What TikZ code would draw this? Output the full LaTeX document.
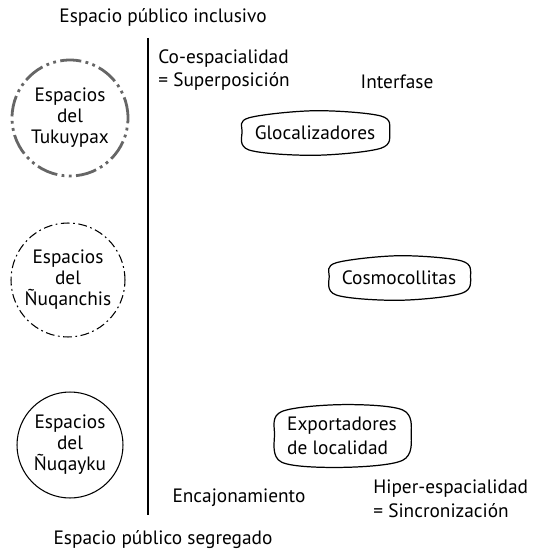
\documentclass[tikz,border=0pt]{standalone}
\usepackage{fontspec}
\setmainfont{PT Sans}
\newcommand{\contorno}[1]{%
    \draw[borde] plot[smooth cycle, tension=0.55] coordinates {
        ([shift={(3pt,-2pt)}]#1.north west)
        ([shift={(0pt,2pt)}]#1.north)
        ([shift={(-3pt,-1pt)}]#1.north east)
        ([shift={(2pt,1pt)}]#1.east)
        ([shift={(-3pt,2pt)}]#1.south east)
        ([shift={(0pt,-2pt)}]#1.south)
        ([shift={(3pt,1pt)}]#1.south west)
        ([shift={(-1pt,1pt)}]#1.west)
    };}
\begin{document}
\begin{tikzpicture}[
        x=0.02cm, y=-0.02cm,
        texto/.style={
            font=\fontsize{11}{13.5}\selectfont,
            inner sep=0pt,
            align=left
        },
        espacio/.style={
            circle,
            align=center,
            inner sep=0pt,
            font=\fontsize{11}{12}\selectfont
        },
        actor/.style={
            align=left,
            inner xsep=6pt,
            inner ysep=6.5pt,
            font=\fontsize{11}{13.5}\selectfont
        },
        borde/.style={draw, line width=0.7pt}
    ]
        \useasboundingbox (0,0) rectangle (536,554);

        % ejes
        \coordinate (arriba) at (148,38);
        \coordinate (abajo) at (148,515);
        \draw[line width=0.6pt] (arriba) -- (abajo);

        \node[texto] (inclusivo) at (163,17) {Espacio público inclusivo};
        \node[texto] (segregado) at (163,540) {Espacio público segregado};

        % espacios
        \node[espacio, minimum size=2.32cm,
            draw=black!60, line width=1.6pt,
            dash pattern=on 12pt off 2.5pt on 1.6pt off 2.5pt on 1.6pt off 2.5pt]
            (tukuypax) at (70,118) {Espacios\\del\\Tukuypax};
        \node[espacio, minimum size=2.28cm,
            draw, line width=0.6pt,
            dash pattern=on 5pt off 2pt on 1pt off 2pt]
            (nuqanchis) at (68,280) {Espacios\\del\\Ñuqanchis};
        \node[espacio, minimum size=2.12cm,
            draw, line width=0.6pt]
            (nuqayku) at (70,445) {Espacios\\del\\Ñuqayku};

        % etiquetas
        \node[texto, anchor=west] (coesp) at (158,70)
        {Co-espacialidad\\= Superposición};
        \node[texto] (interfase) at (397,82) {Interfase};
        \node[texto] (encajon) at (239,498) {Encajonamiento};
        \node[texto, anchor=west] (hiper) at (373,499)
        {Hiper-espacialidad\\= Sincronización};

        % actores
        \node[actor] (glocal) at (315,133) {Glocalizadores};
        \node[actor] (cosmo) at (399,278) {Cosmocollitas};
        \node[actor, inner ysep=5pt] (export) at (342,436)
        {Exportadores\\de localidad};

        \contorno{glocal}
        \contorno{cosmo}
        \contorno{export}
    \end{tikzpicture}
\end{document}
